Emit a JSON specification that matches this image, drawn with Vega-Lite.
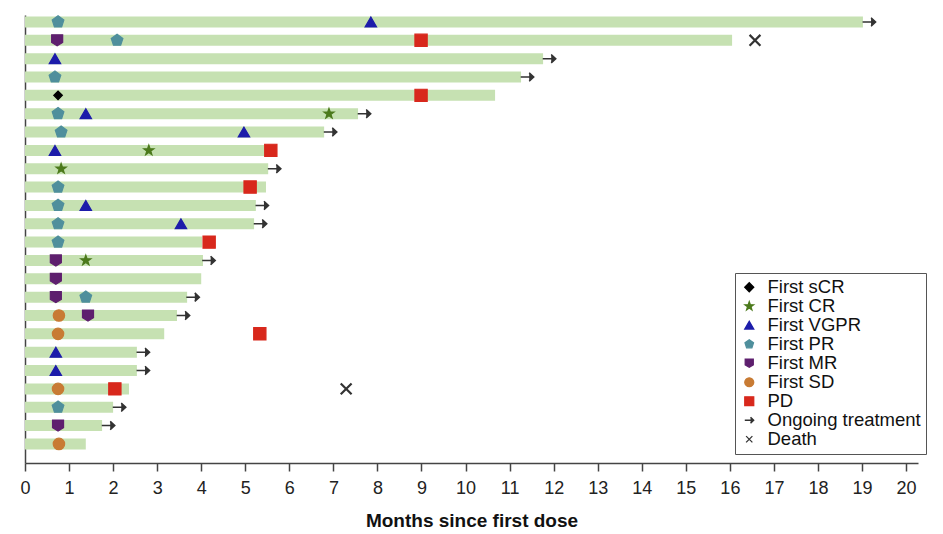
{
  "$schema": "https://vega.github.io/schema/vega-lite/v6.json",
  "autosize": "none",
  "padding": {"left": 25, "top": 15, "right": 25, "bottom": 71},
  "width": 893,
  "height": 448,
  "background": "#ffffff",
  "config": {"view": {"stroke": null}, "font": "Liberation Sans"},
  "datasets": {
    "bars": [
      {"row": 1, "start": 0, "end": 19.02}, {"row": 2, "start": 0, "end": 16.05}, {"row": 3, "start": 0, "end": 11.76}, {"row": 4, "start": 0, "end": 11.26},
      {"row": 5, "start": 0, "end": 10.67}, {"row": 6, "start": 0, "end": 7.56}, {"row": 7, "start": 0, "end": 6.79}, {"row": 8, "start": 0, "end": 5.70},
      {"row": 9, "start": 0, "end": 5.52}, {"row": 10, "start": 0, "end": 5.47}, {"row": 11, "start": 0, "end": 5.24}, {"row": 12, "start": 0, "end": 5.20},
      {"row": 13, "start": 0, "end": 4.02}, {"row": 14, "start": 0, "end": 4.04}, {"row": 15, "start": 0, "end": 4.00}, {"row": 16, "start": 0, "end": 3.68},
      {"row": 17, "start": 0, "end": 3.45}, {"row": 18, "start": 0, "end": 3.16}, {"row": 19, "start": 0, "end": 2.54}, {"row": 20, "start": 0, "end": 2.54},
      {"row": 21, "start": 0, "end": 2.36}, {"row": 22, "start": 0, "end": 2.00}, {"row": 23, "start": 0, "end": 1.75}, {"row": 24, "start": 0, "end": 1.38}
    ],
    "events": [
      {"row": 1, "x": 0.75, "event": "First PR"}, {"row": 1, "x": 7.85, "event": "First VGPR"}, {"row": 1, "x": 19.16, "event": "Ongoing treatment"},
      {"row": 2, "x": 0.73, "event": "First MR"}, {"row": 2, "x": 2.09, "event": "First PR"}, {"row": 2, "x": 8.99, "event": "PD"}, {"row": 2, "x": 16.57, "event": "Death"},
      {"row": 3, "x": 0.68, "event": "First VGPR"}, {"row": 3, "x": 11.90, "event": "Ongoing treatment"},
      {"row": 4, "x": 0.68, "event": "First PR"}, {"row": 4, "x": 11.40, "event": "Ongoing treatment"},
      {"row": 5, "x": 0.75, "event": "First sCR"}, {"row": 5, "x": 8.99, "event": "PD"},
      {"row": 6, "x": 0.75, "event": "First PR"}, {"row": 6, "x": 1.38, "event": "First VGPR"}, {"row": 6, "x": 6.90, "event": "First CR"}, {"row": 6, "x": 7.70, "event": "Ongoing treatment"},
      {"row": 7, "x": 0.82, "event": "First PR"}, {"row": 7, "x": 4.97, "event": "First VGPR"}, {"row": 7, "x": 6.93, "event": "Ongoing treatment"},
      {"row": 8, "x": 0.68, "event": "First VGPR"}, {"row": 8, "x": 2.81, "event": "First CR"}, {"row": 8, "x": 5.58, "event": "PD"},
      {"row": 9, "x": 0.82, "event": "First CR"}, {"row": 9, "x": 5.66, "event": "Ongoing treatment"},
      {"row": 10, "x": 0.75, "event": "First PR"}, {"row": 10, "x": 5.11, "event": "PD"},
      {"row": 11, "x": 0.75, "event": "First PR"}, {"row": 11, "x": 1.38, "event": "First VGPR"}, {"row": 11, "x": 5.38, "event": "Ongoing treatment"},
      {"row": 12, "x": 0.75, "event": "First PR"}, {"row": 12, "x": 3.54, "event": "First VGPR"}, {"row": 12, "x": 5.34, "event": "Ongoing treatment"},
      {"row": 13, "x": 0.75, "event": "First PR"}, {"row": 13, "x": 4.18, "event": "PD"},
      {"row": 14, "x": 0.70, "event": "First MR"}, {"row": 14, "x": 1.38, "event": "First CR"}, {"row": 14, "x": 4.17, "event": "Ongoing treatment"},
      {"row": 15, "x": 0.70, "event": "First MR"},
      {"row": 16, "x": 0.70, "event": "First MR"}, {"row": 16, "x": 1.38, "event": "First PR"}, {"row": 16, "x": 3.81, "event": "Ongoing treatment"},
      {"row": 17, "x": 0.77, "event": "First SD"}, {"row": 17, "x": 1.43, "event": "First MR"}, {"row": 17, "x": 3.59, "event": "Ongoing treatment"},
      {"row": 18, "x": 0.75, "event": "First SD"}, {"row": 18, "x": 5.33, "event": "PD"},
      {"row": 19, "x": 0.70, "event": "First VGPR"}, {"row": 19, "x": 2.68, "event": "Ongoing treatment"},
      {"row": 20, "x": 0.70, "event": "First VGPR"}, {"row": 20, "x": 2.68, "event": "Ongoing treatment"},
      {"row": 21, "x": 0.75, "event": "First SD"}, {"row": 21, "x": 2.04, "event": "PD"}, {"row": 21, "x": 7.29, "event": "Death"},
      {"row": 22, "x": 0.75, "event": "First PR"}, {"row": 22, "x": 2.14, "event": "Ongoing treatment"},
      {"row": 23, "x": 0.75, "event": "First MR"}, {"row": 23, "x": 1.89, "event": "Ongoing treatment"},
      {"row": 24, "x": 0.77, "event": "First SD"}
    ]
  },
  "layer": [
    {
      "data": {"name": "bars"},
      "mark": {"type": "rule", "strokeWidth": 11, "strokeCap": "butt", "color": "#c6e1b2"},
      "encoding": {
        "x": {"field": "start", "type": "quantitative", "scale": {"domain": [0, 20.27], "nice": false, "zero": false},
          "axis": {"values": [0,1,2,3,4,5,6,7,8,9,10,11,12,13,14,15,16,17,18,19,20], "grid": false,
            "title": "Months since first dose", "titleFont": "Liberation Sans", "titleFontWeight": "bold", "titleFontSize": 19, "titleColor": "#111", "titlePadding": 14,
            "labelFont": "Liberation Sans", "labelFontSize": 18, "labelColor": "#222", "labelPadding": 8,
            "tickSize": 8, "tickColor": "#444", "tickWidth": 1.5, "domainColor": "#444", "domainWidth": 1.5, "labelFlush": false}},
        "x2": {"field": "end"},
        "y": {"field": "row", "type": "quantitative", "scale": {"domain": [0.62, 25.04], "nice": false, "zero": false, "reverse": true},
          "axis": {"labels": false, "ticks": false, "grid": false, "title": null, "domainColor": "#444", "domainWidth": 1.5}}
      }
    },
    {
      "data": {"name": "events"},
      "mark": {"type": "point", "filled": true, "opacity": 1,
        "strokeWidth": {"expr": "datum.event === 'Death' ? 2.2 : datum.event === 'Ongoing treatment' ? 1.5 : 1.2"},
        "size": {"expr": "datum.event === 'First sCR' ? 75 : datum.event === 'First CR' ? 115 : datum.event === 'First VGPR' ? 130 : datum.event === 'First SD' ? 130 : datum.event === 'Ongoing treatment' ? 170 : datum.event === 'Death' ? 240 : 150"}},
      "encoding": {
        "x": {"field": "x", "type": "quantitative"},
        "y": {"field": "row", "type": "quantitative"},
        "shape": {"field": "event", "type": "nominal",
          "scale": {"domain": ["First sCR", "First CR", "First VGPR", "First PR", "First MR", "First SD", "PD", "Ongoing treatment", "Death"],
            "range": ["diamond",
              "M0,-1L0.235,-0.324L0.951,-0.309L0.380,0.124L0.588,0.809L0,0.4L-0.588,0.809L-0.380,0.124L-0.951,-0.309L-0.235,-0.324Z",
              "triangle-up",
              "M0,-1L0.951,-0.309L0.588,0.809L-0.588,0.809L-0.951,-0.309Z",
              "M-0.9,-0.9L0.9,-0.9L0.9,0.35L0,0.9L-0.9,0.35Z",
              "circle",
              "square",
              "M-1,0L1,0M0.3,-0.65L1,0L0.3,0.65",
              "M-0.7,-0.7L0.7,0.7M-0.7,0.7L0.7,-0.7"]},
          "legend": {"orient": "none", "legendX": 710, "legendY": 258, "title": null, "padding": 5,
            "strokeColor": "#555", "fillColor": "#ffffff", "labelFont": "Liberation Sans", "labelFontSize": 18.5, "labelColor": "#111",
            "symbolSize": 80, "symbolStrokeWidth": 1.3, "labelOffset": 9, "rowPadding": 0}},
        "color": {"field": "event", "type": "nominal",
          "scale": {"domain": ["First sCR", "First CR", "First VGPR", "First PR", "First MR", "First SD", "PD", "Ongoing treatment", "Death"],
            "range": ["#000000", "#4c7a1c", "#1c1caa", "#4f8f9c", "#5e1f6e", "#c87b34", "#d8281c", "#333333", "#333333"]}},
        "stroke": {"field": "event", "type": "nominal",
          "scale": {"domain": ["First sCR", "First CR", "First VGPR", "First PR", "First MR", "First SD", "PD", "Ongoing treatment", "Death"],
            "range": ["#000000", "#4c7a1c", "#1c1caa", "#4f8f9c", "#5e1f6e", "#c87b34", "#d8281c", "#333333", "#333333"]}}
      }
    }
  ]
}
